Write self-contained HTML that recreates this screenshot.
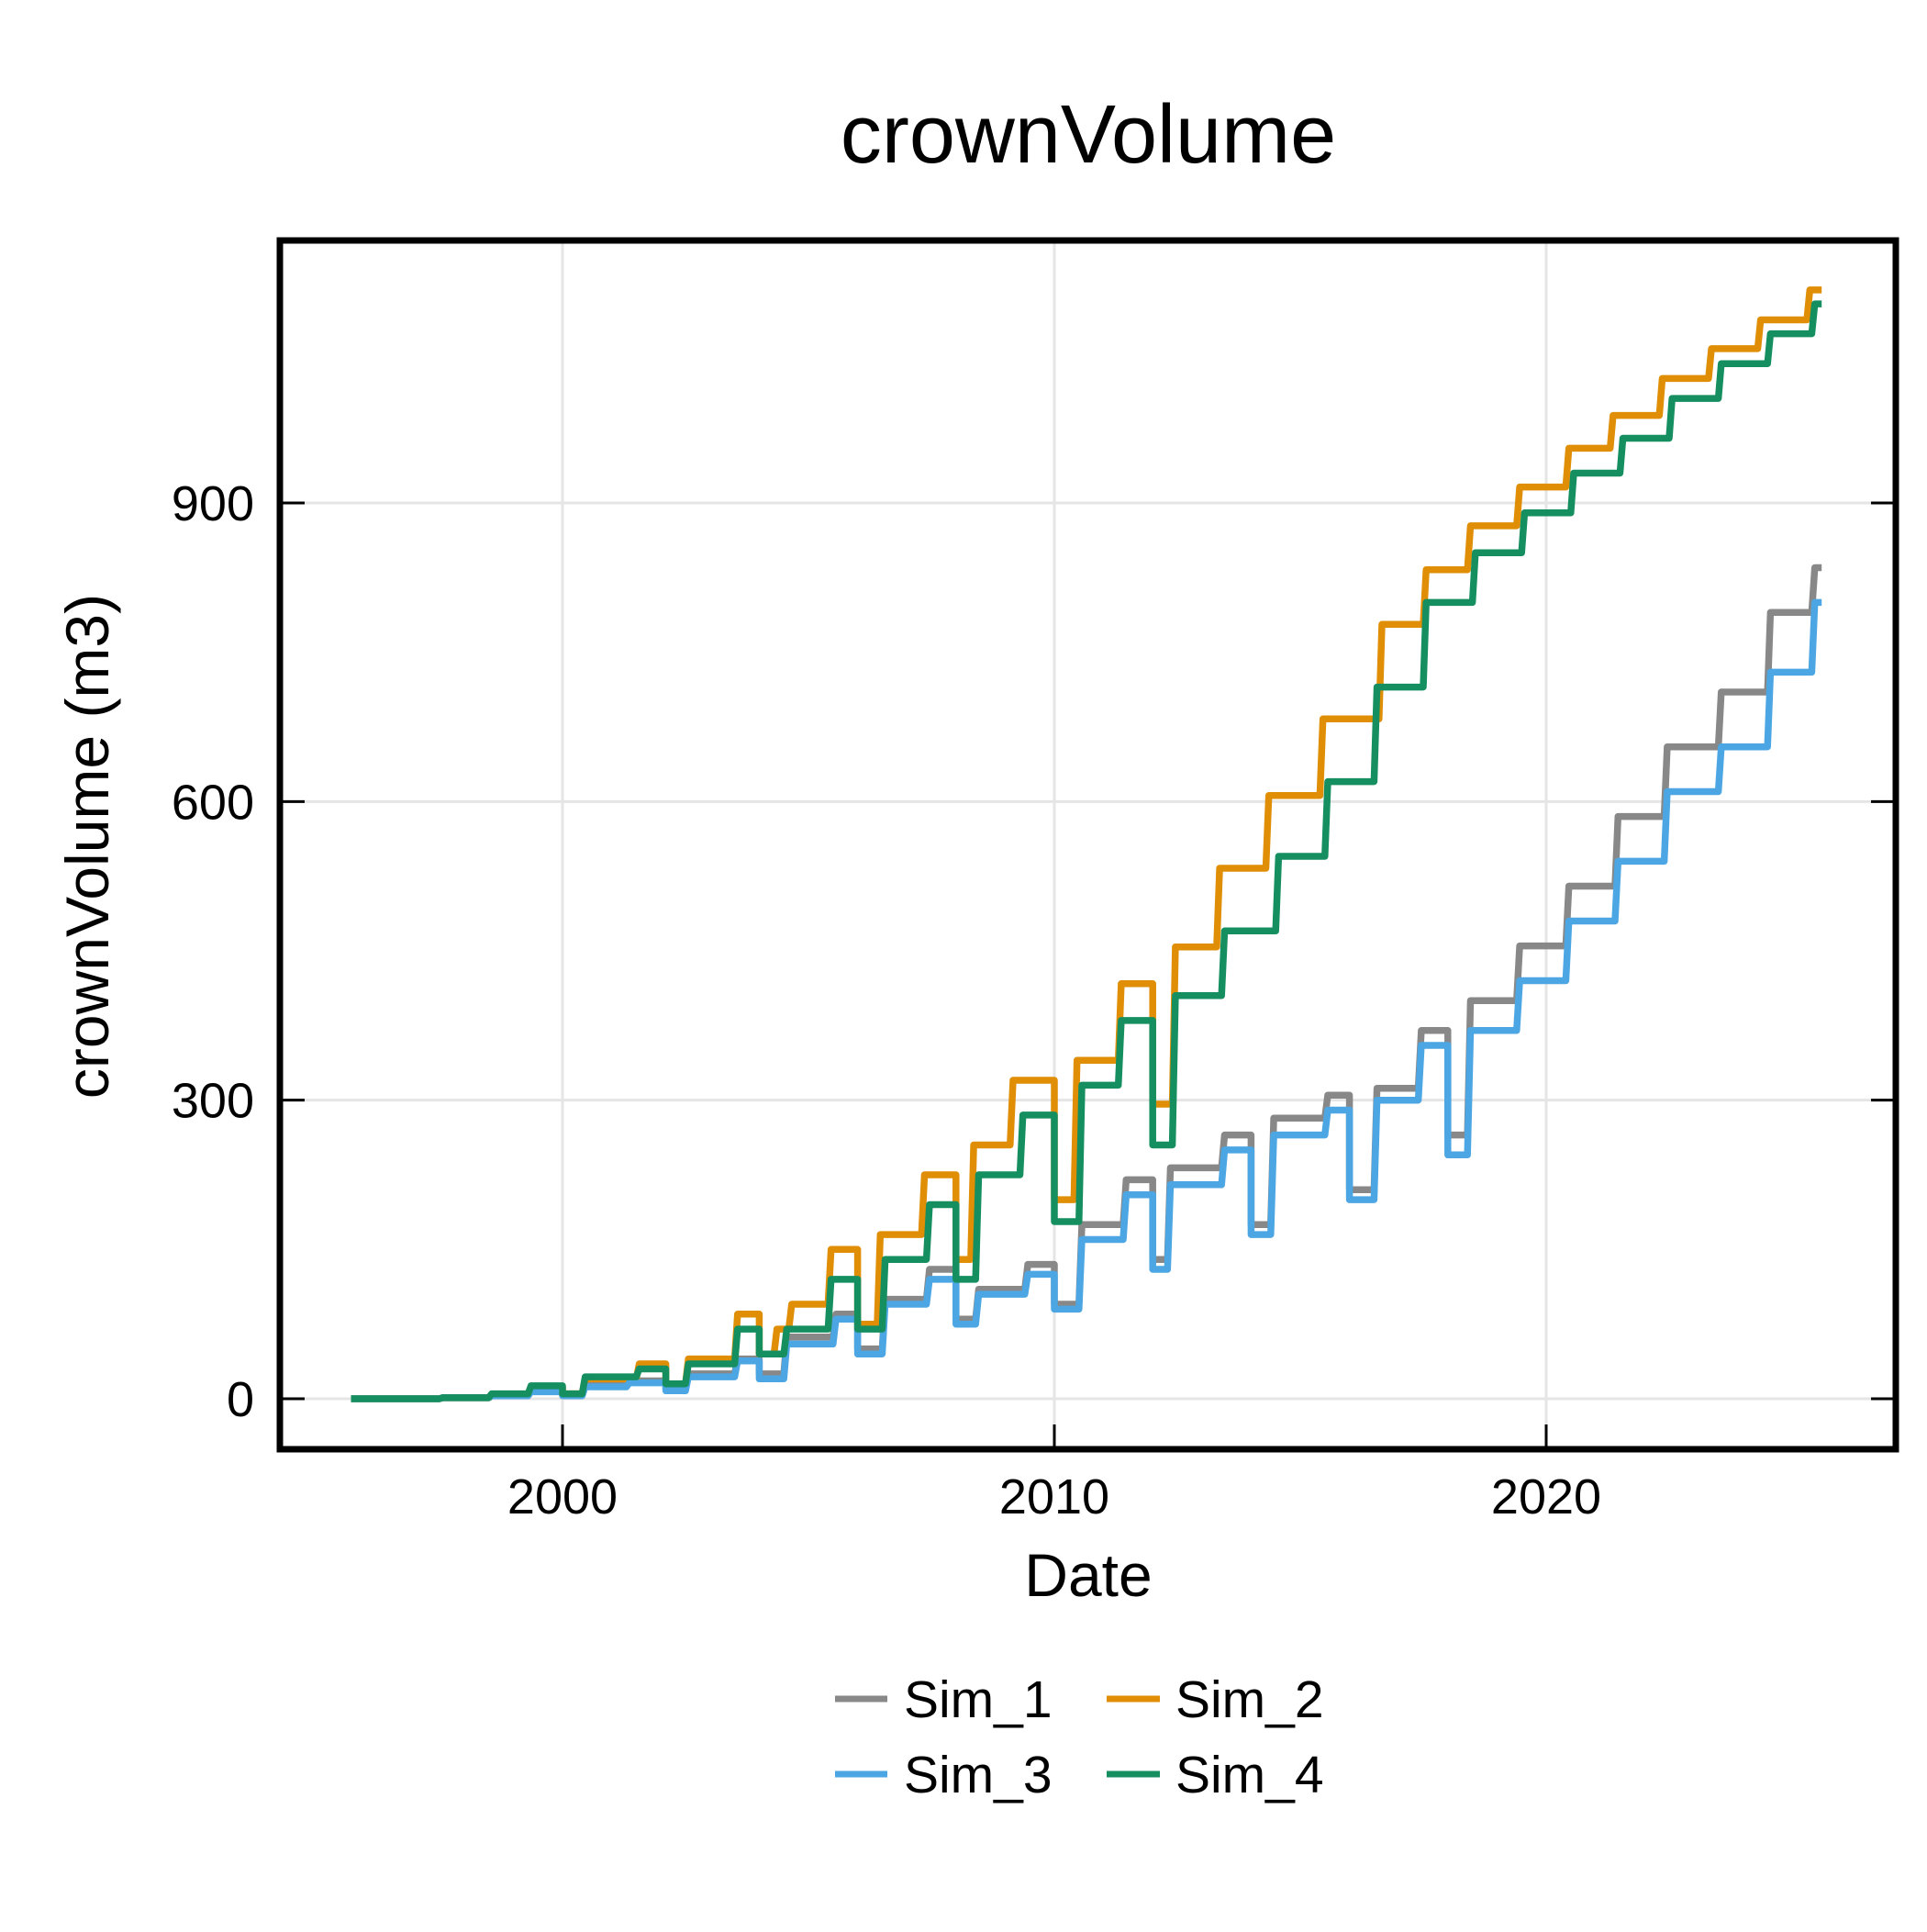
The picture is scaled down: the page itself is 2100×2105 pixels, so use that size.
<!DOCTYPE html>
<html><head><meta charset="utf-8"><style>
html,body{margin:0;padding:0;background:#fff;}
svg text{font-family:"Liberation Sans",Arial,sans-serif;fill:#000;}
</style></head><body>
<svg id="chart" width="2100" height="2100" viewBox="0 0 2100 2100" xmlns="http://www.w3.org/2000/svg">
<rect x="0" y="0" width="2100" height="2100" fill="#fff"/>
<text x="1186" y="177" font-size="90" text-anchor="middle">crownVolume</text>
<g id="grid"></g>
<g id="series"></g>
<rect x="305" y="262" width="1761" height="1317" fill="none" stroke="#000" stroke-width="7"/>
<g id="ticks"></g>
<text x="1186" y="1739" font-size="66" text-anchor="middle">Date</text>
<text transform="translate(118,922) rotate(-90)" font-size="66" text-anchor="middle">crownVolume (m3)</text>
<g>
<g><line x1="910" y1="1851" x2="967" y2="1851" stroke="#888888" stroke-width="7"/><text x="985" y="1871" font-size="57">Sim_1</text></g>
<g><line x1="1206" y1="1851" x2="1264" y2="1851" stroke="#DF8E05" stroke-width="7"/><text x="1281" y="1871" font-size="57">Sim_2</text></g>
<g><line x1="910" y1="1933" x2="967" y2="1933" stroke="#4BA6E3" stroke-width="7"/><text x="985" y="1953" font-size="57">Sim_3</text></g>
<g><line x1="1206" y1="1933" x2="1264" y2="1933" stroke="#168F60" stroke-width="7"/><text x="1281" y="1953" font-size="57">Sim_4</text></g>
</g>
</svg>
<script>
const xTicks = [2000, 2010, 2020];
const xTickLabels = ["2000", "2010", "2020"];
const yTicks = [0, 300, 600, 900];
const yTickLabels = ["0", "300", "600", "900"];
const seriesNames = ["Sim_1", "Sim_2", "Sim_3", "Sim_4"];
const startYear = 1995.7, endYear = 2025.6;
const sim1Years = [1997.5,1998.5,1999.3,2000.0,2000.4,2001.3,2002.1,2002.5,2003.5,2004.0,2004.5,2005.5,2006.0,2006.5,2007.4,2008.0,2008.4,2009.4,2010.0,2010.5,2011.4,2012.0,2012.3,2013.4,2014.0,2014.4,2015.5,2016.0,2016.5,2017.4,2018.0,2018.4,2019.4,2020.4,2021.4,2022.4,2023.5,2024.5,2025.4];
const sim1Values = [1,3,8,4,14,18,10,25,40,25,62,85,50,100,130,80,110,135,95,175,220,140,232,265,175,282,305,210,312,370,265,400,455,515,585,655,710,790,835];
const sim2Years = [1997.5,1998.5,1999.3,2000.0,2000.4,2001.5,2002.1,2002.5,2003.5,2004.0,2004.3,2004.6,2005.4,2006.0,2006.4,2007.3,2008.0,2008.3,2009.1,2010.0,2010.4,2011.3,2012.0,2012.4,2013.3,2014.3,2015.4,2016.6,2017.5,2018.4,2019.4,2020.4,2021.3,2022.3,2023.3,2024.3,2025.3];
const sim2Values = [1,4,12,5,20,35,15,40,85,45,70,95,150,75,165,225,140,255,320,200,340,417,296,454,533,606,683,778,833,877,916,955,988,1025,1055,1084,1114];
const sim3Years = [1997.5,1998.5,1999.3,2000.0,2000.4,2001.3,2002.1,2002.5,2003.5,2004.0,2004.5,2005.5,2006.0,2006.5,2007.4,2008.0,2008.4,2009.4,2010.0,2010.5,2011.4,2012.0,2012.3,2013.4,2014.0,2014.4,2015.5,2016.0,2016.5,2017.4,2018.0,2018.4,2019.4,2020.4,2021.4,2022.4,2023.5,2024.5,2025.4];
const sim3Values = [1,3,7,3,12,16,8,22,38,20,55,80,45,95,120,75,105,125,90,160,205,130,215,250,165,265,290,200,300,355,245,370,420,480,540,610,655,730,800];
const sim4Years = [1997.5,1998.5,1999.3,2000.0,2000.4,2001.5,2002.1,2002.5,2003.5,2004.0,2004.5,2005.4,2006.0,2006.5,2007.4,2008.0,2008.4,2009.3,2010.0,2010.5,2011.3,2012.0,2012.4,2013.4,2014.5,2015.5,2016.5,2017.5,2018.5,2019.5,2020.5,2021.5,2022.5,2023.5,2024.5,2025.4];
const sim4Values = [1,5,13,5,22,30,15,35,70,45,70,120,70,140,195,120,225,285,178,315,380,255,405,470,545,620,715,800,850,890,930,965,1005,1040,1070,1100];
const colors = ["#888888","#DF8E05","#4BA6E3","#168F60"];
const NS = "http://www.w3.org/2000/svg";
const PL = 305, PR = 2066, PT = 262, PB = 1579;
function xs(t){ return 613 + (t - 2000) * 53.6; }
function ys(v){ return 1524 - v * (976 / 900); }
const grid = document.getElementById('grid'), ticks = document.getElementById('ticks'), sg = document.getElementById('series');
function mk(tag, attrs, parent){ const e = document.createElementNS(NS, tag); for (const k in attrs) e.setAttribute(k, attrs[k]); parent.appendChild(e); return e; }
xTicks.forEach((t, i) => {
  const x = xs(t);
  const g = mk('line', {x1:x, y1:PT, x2:x, y2:PB, stroke:'#e5e5e5', 'stroke-width':3}, grid);
  
  
  const tk = mk('line', {x1:x, y1:PB, x2:x, y2:PB-27, stroke:'#000', 'stroke-width':3}, ticks);
  
  
  const tx = mk('text', {x:x, y:1649, 'font-size':54, 'text-anchor':'middle'}, ticks);
  tx.textContent = xTickLabels[i];
  
  
});
yTicks.forEach((v, i) => {
  const y = ys(v);
  const g = mk('line', {x1:PL, y1:y, x2:PR, y2:y, stroke:'#e5e5e5', 'stroke-width':3}, grid);
  
  
  const tl = mk('line', {x1:PL, y1:y, x2:PL+27, y2:y, stroke:'#000', 'stroke-width':3}, ticks);
  
  
  const tr = mk('line', {x1:PR-27, y1:y, x2:PR, y2:y, stroke:'#000', 'stroke-width':3}, ticks);
  
  
  const tx = mk('text', {x:277, y:y+19, 'font-size':54, 'text-anchor':'end'}, ticks);
  tx.textContent = yTickLabels[i];
  
  
});
const allYears = [sim1Years, sim2Years, sim3Years, sim4Years];
const allValues = [sim1Values, sim2Values, sim3Values, sim4Values];
allYears.forEach((yrs, s) => {
  const vals = allValues[s];
  const pts = [[startYear, 0]];
  let prev = 0;
  for (let i = 0; i < yrs.length; i++) {
    const ramp = vals[i] > prev ? 0.06 : 0.0;
    pts.push([yrs[i], prev]);
    pts.push([yrs[i] + ramp, vals[i]]);
    prev = vals[i];
  }
  pts.push([endYear, prev]);
  const d = pts.map((p, i) => (i ? 'L' : 'M') + xs(p[0]).toFixed(1) + ',' + ys(p[1]).toFixed(1)).join('');
  const path = mk('path', {d:d, fill:'none', stroke:colors[s], 'stroke-width':7.5, 'stroke-linejoin':'round'}, sg);
  
  
});
</script>
</body></html>
